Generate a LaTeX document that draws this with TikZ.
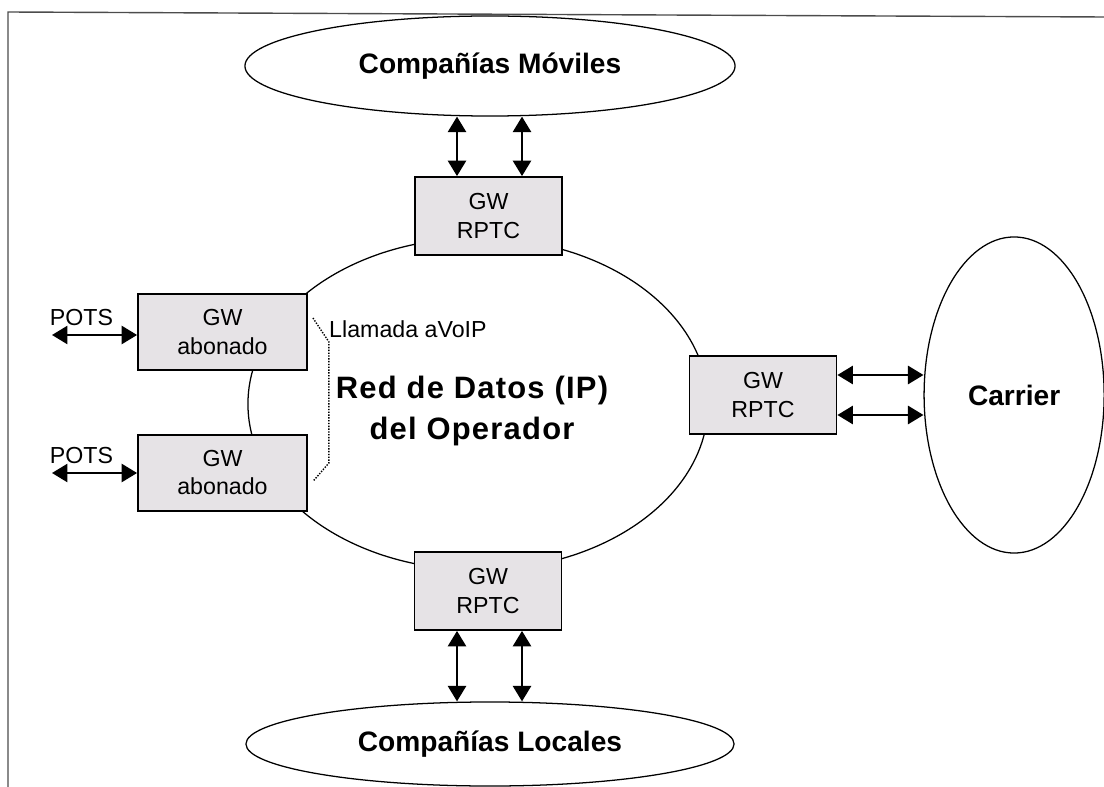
\documentclass[tikz,border=0pt]{standalone}
\usepackage{fontspec}
\setmainfont{Liberation Sans}
\newfontfamily\spacedsans[LetterSpace=4]{Liberation Sans}
\usetikzlibrary{arrows.meta, positioning, shapes.geometric}
\definecolor{gwgray}{RGB}{230,227,230}

\begin{document}
\begin{tikzpicture}[
      x=0.025cm, y=-0.025cm,
      small/.style={font=\fontsize{16.5}{20}\selectfont},
      gw/.style={draw, line width=1.3pt, fill=gwgray, align=center, inner sep=0pt, small,
        minimum width=3.675cm, minimum height=1.95cm},
      abon/.style={gw, minimum width=4.225cm, minimum height=1.9cm},
      cia/.style={draw, ellipse, line width=0.9pt, inner sep=0pt,
        font=\fontsize{20}{24}\selectfont\bfseries},
      link/.style={<->, line width=1.3pt},
      >={Triangle[length=11pt, width=13pt]}
    ]
    \useasboundingbox (0,0) rectangle (1104,787);

    % Frame
    \draw[gray!60!black, line width=1pt] (1104,17) -- (8,12) -- (8,787);

    % Operator network
    \node[cia, minimum width=11.5cm, minimum height=8.3cm] (ipnet) at (478,404) {};
    \node[align=center, font=\fontsize{22}{29}\spacedsans\bfseries] (iplbl)
      at ([shift={(-6,7)}]ipnet.center) {Red de Datos (IP)\\del Operador};

    % Outside networks
    \node[cia, minimum width=12.25cm, minimum height=2.5cm] (movil) at (490,66) {Compañías Móviles};
    \node[cia, minimum width=12.2cm, minimum height=2.1cm] (local) at (490,744) {Compañías Locales};

    % Gateways
    \node[gw] (rptcn) at (488.5,216) {GW\\RPTC};
    \node[gw] (rptcs) at (488,591) {GW\\RPTC};
    \node[gw] (rptce) at (763,395) {GW\\RPTC};
    \node[abon] (abon1) at (222.5,332) {GW\\abonado};
    \node[abon, below=1.575cm of abon1] (abon2) {GW\\abonado};

    \node[cia, minimum width=4.5cm, minimum height=7.9cm, right=2.15cm of rptce] (carrier) {Carrier};

    % Arrows
    \draw[link] ([shift={(-31.5,0)}]rptcn.north) -- ([shift={(-31.5,0)}]rptcn.north |- movil.south);
    \draw[link] ([shift={(33.5,0)}]rptcn.north) -- ([shift={(33.5,0)}]rptcn.north |- movil.south);
    \draw[link] ([shift={(-31,0)}]rptcs.south) -- ([shift={(-31,0)}]rptcs.south |- local.north);
    \draw[link] ([shift={(34,0)}]rptcs.south) -- ([shift={(34,0)}]rptcs.south |- local.north);
    \draw[link] ([shift={(0,-20)}]rptce.east) -- ([shift={(0,-20)}]rptce.east -| carrier.west);
    \draw[link] ([shift={(0,20)}]rptce.east) -- ([shift={(0,20)}]rptce.east -| carrier.west);

    % Subscriber lines
    \coordinate (pots1) at (52,335);
    \coordinate (pots2) at (52,473);
    \draw[link] (pots1) -- (pots1 -| abon1.west);
    \draw[link] (pots2) -- (pots2 -| abon2.west);
    \node[anchor=base west, small] (potslbl1) at (45,325) {POTS};
    \node[anchor=base west, small] (potslbl2) at (45,463) {POTS};

    % VoIP call between subscribers
    \draw[densely dotted, line width=1pt] ([shift={(5,-14)}]abon1.east) -- ++(16,24) coordinate (voip)
      -- ++(0,121) -- ([shift={(5,8.5)}]abon2.east);
    \node[anchor=base west, inner sep=0pt, small] (voiplbl)
      at ([shift={(0,-5)}]voip) {Llamada aVoIP};

  \end{tikzpicture}
\end{document}
